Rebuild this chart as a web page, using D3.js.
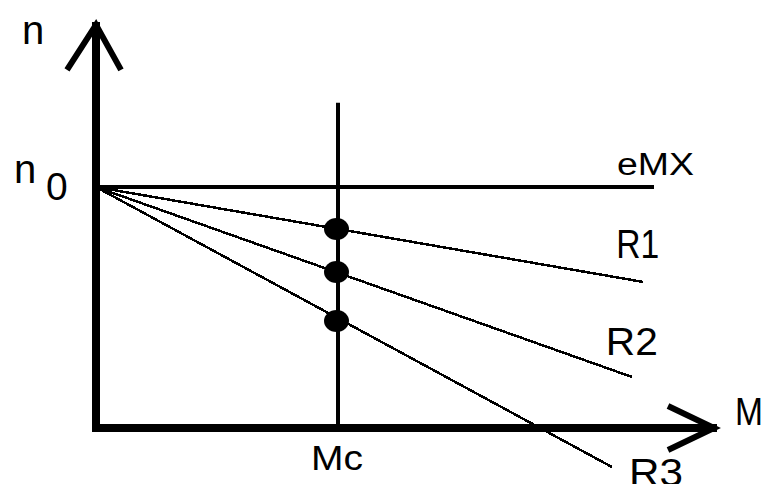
<!DOCTYPE html>
<html>
<head>
<meta charset="utf-8">
<script src="https://cdn.jsdelivr.net/npm/d3@7"></script>
<style>
  body { margin: 0; background: #fff; }
  svg { display: block; }
  text { font-family: "Liberation Sans", Arial, sans-serif; fill: #000; }
</style>
</head>
<body>
<script>
// values (n relative to n0, M in arbitrary units)
var seriesNames = ["eMX", "R1", "R2", "R3"];
var lineEndM = [9.3, 9.12, 8.93, 8.6];
var lineEndN = [1, 0.606, 0.212, -0.162];
var mcValue = 4;
var mcLabel = "Mc";
var n0Value = 1;
var dotN = [0.826, 0.647, 0.444];
var axisLabels = ["n", "M"];

function drawChart() {
    var width = 767, height = 484;

    var x = d3.scaleLinear().domain([0, 10]).range([96, 696]);
    var y = d3.scaleLinear().domain([0, 1]).range([428, 187]);
    var xMax = 10.35, yMax = 1.685;

    var svg = d3.select("body").append("svg")
        .attr("width", width)
        .attr("height", height)
        .style("background", "white");

    // vertical line at Mc
    svg.append("line")
        .attr("x1", x(mcValue) + 2).attr("x2", x(mcValue) + 2)
        .attr("y1", y(1.35)).attr("y2", y(0))
        .attr("stroke", "black").attr("stroke-width", 4);

    // series lines, all from (0, n0)
    var lines = seriesNames.map(function(name, i) {
        return { name: name, pts: [[0, n0Value], [lineEndM[i], lineEndN[i]]] };
    });
    var lineGen = d3.line().x(function(d) { return x(d[0]); }).y(function(d) { return y(d[1]); });
    svg.selectAll("path.series").data(lines).enter()
        .append("path")
        .attr("class", "series")
        .attr("d", function(d) { return lineGen(d.pts); })
        .attr("fill", "none")
        .attr("stroke", "black")
        .attr("stroke-width", function(d, i) { return i == 0 ? 4 : 2.5; })
        .attr("shape-rendering", "crispEdges");

    // dots at Mc
    svg.selectAll("ellipse.dot").data(dotN).enter()
        .append("ellipse")
        .attr("class", "dot")
        .attr("cx", x(mcValue) + 0.5)
        .attr("cy", function(d) { return y(d); })
        .attr("rx", 12.5).attr("ry", 11)
        .attr("fill", "black");

    // axes
    svg.append("line")
        .attr("x1", x(0)).attr("x2", x(0))
        .attr("y1", y(0) + 4).attr("y2", y(yMax))
        .attr("stroke", "black").attr("stroke-width", 8);
    svg.append("line")
        .attr("x1", x(0) - 4).attr("x2", x(xMax))
        .attr("y1", y(0)).attr("y2", y(0))
        .attr("stroke", "black").attr("stroke-width", 8);

    // arrow heads
    svg.append("polyline")
        .attr("points", [[x(0) - 29, y(yMax) + 48], [x(0), y(yMax) + 3], [x(0) + 25, y(yMax) + 48]].join(" "))
        .attr("fill", "none").attr("stroke", "black").attr("stroke-width", 6);
    svg.append("polyline")
        .attr("points", [[x(xMax) - 49, y(0) - 22], [x(xMax) - 3, y(0)], [x(xMax) - 49, y(0) + 22]].join(" "))
        .attr("fill", "none").attr("stroke", "black").attr("stroke-width", 6);

    // axis labels
    svg.append("text").text(axisLabels[0])
        .attr("x", 22).attr("y", 44)
        .attr("font-size", 40);
    svg.append("text").text(axisLabels[1])
        .attr("x", 735).attr("y", 425)
        .attr("font-size", 39)
        .attr("textLength", 28).attr("lengthAdjust", "spacingAndGlyphs");

    // n0 label
    var n0Text = svg.append("text")
        .attr("x", 14).attr("y", y(n0Value) - 4)
        .attr("font-size", 40);
    n0Text.append("tspan").text("n");
    n0Text.append("tspan").text("0")
        .attr("x", 46).attr("y", y(n0Value) + 13)
        .attr("font-size", 39);

    // Mc label under the axis
    svg.append("text").text(mcLabel)
        .attr("x", x(mcValue) - 25).attr("y", 470)
        .attr("font-size", 35)
        .attr("textLength", 52).attr("lengthAdjust", "spacingAndGlyphs");

    // series labels near line ends
    var labelDx = [-37, -27, -26, 17];
    var labelDy = [-12, -24, -22, 19];
    var labelSize = [31, 40, 38, 39];
    var labelLen = [77, 43, 52, 54];
    svg.selectAll("text.lab").data(lines).enter()
        .append("text")
        .attr("class", "lab")
        .text(function(d) { return d.name; })
        .attr("x", function(d, i) { return x(lineEndM[i]) + labelDx[i]; })
        .attr("y", function(d, i) { return y(lineEndN[i]) + labelDy[i]; })
        .attr("font-size", function(d, i) { return labelSize[i]; })
        .attr("textLength", function(d, i) { return labelLen[i]; })
        .attr("lengthAdjust", "spacingAndGlyphs");
}

drawChart();
</script>
</body>
</html>
